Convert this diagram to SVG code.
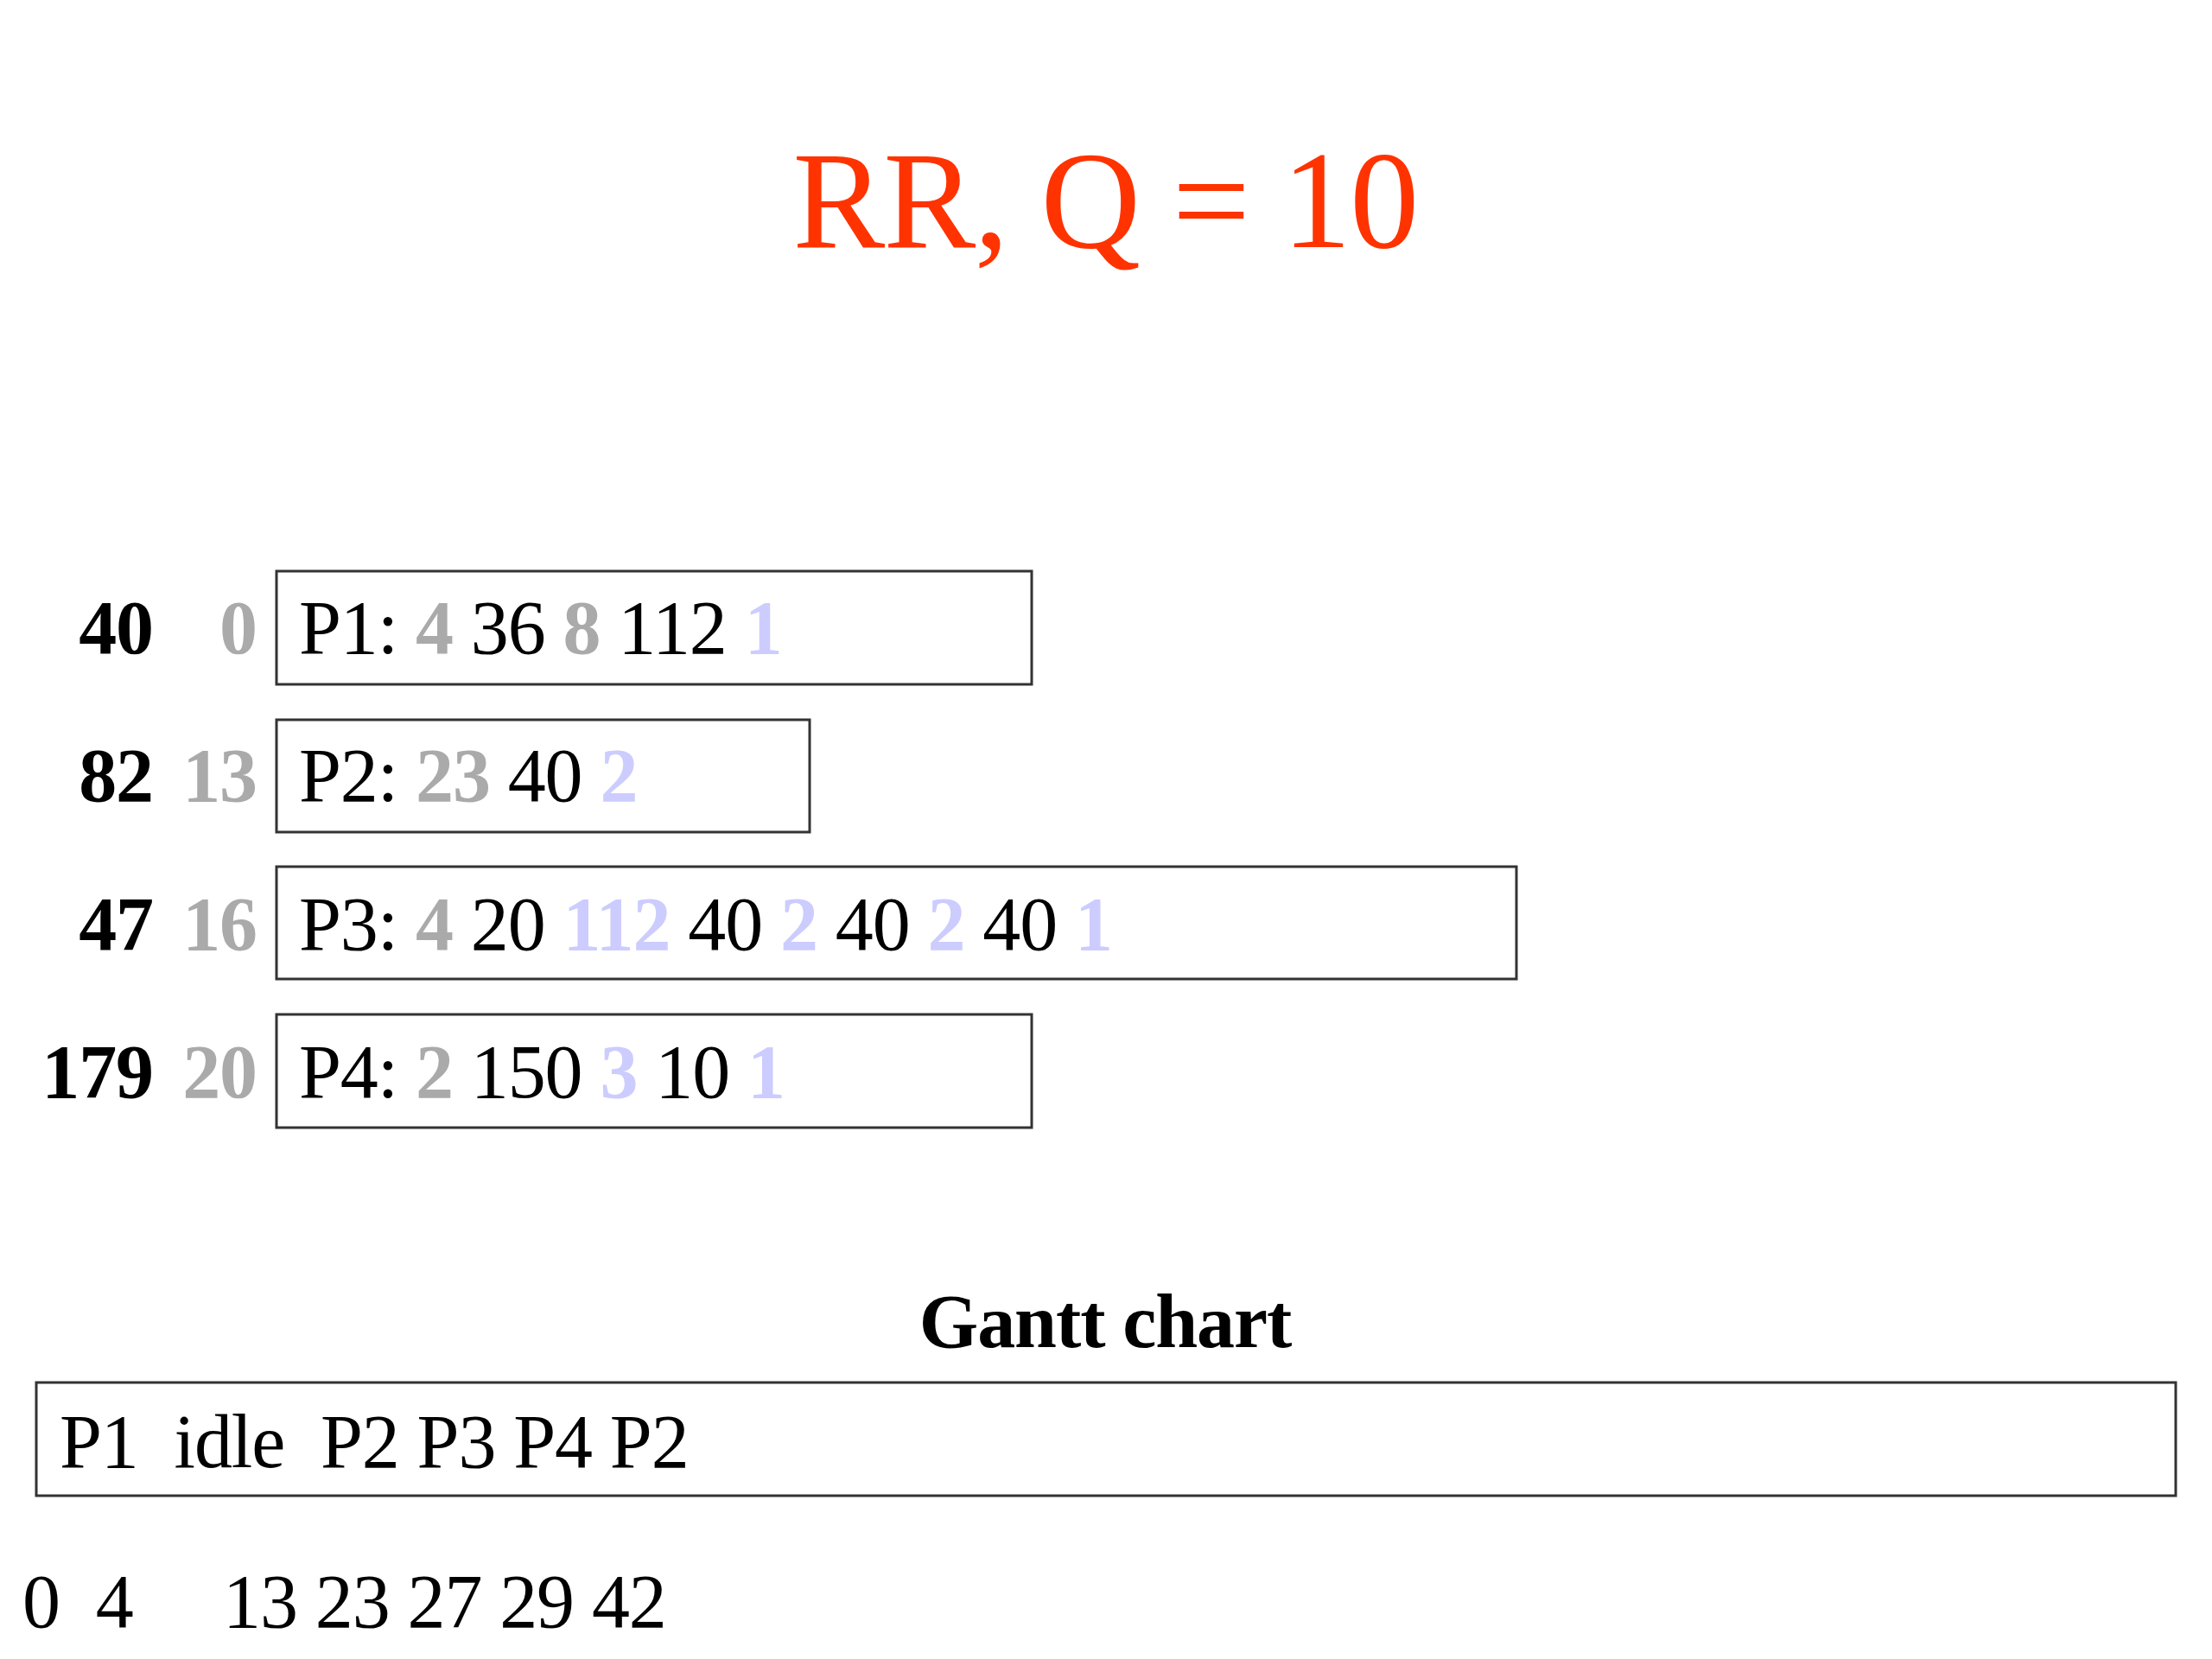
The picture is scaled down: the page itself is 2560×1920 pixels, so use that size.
<svg xmlns="http://www.w3.org/2000/svg" width="2560" height="1920" viewBox="0 0 2560 1920">
<style>
text{font-family:"Liberation Serif","Times New Roman",serif;white-space:pre}
.t{font-size:88px;fill:#000;letter-spacing:-1.1px}
.b{font-weight:bold}
.g{fill:#AAAAAA;font-weight:bold}
.l{fill:#CCCCFF;font-weight:bold}
.box{fill:#fff;stroke:#333;stroke-width:3}
.title{font-size:160px;fill:#FF3300;letter-spacing:-1.6px}
</style>
<rect width="2560" height="1920" fill="#fff"/>
<text class="title" x="1279" y="286" text-anchor="middle">RR, Q = 10</text>
<g id="row1">
<text class="t b" x="177" y="756" text-anchor="end">40</text>
<text class="t g" x="297" y="756" text-anchor="end">0</text>
<rect class="box" x="320" y="661" width="874" height="131"/>
<text class="t" x="346" y="756" xml:space="preserve">P1: <tspan class="g">4</tspan> 36 <tspan class="g">8</tspan> 112 <tspan class="l">1</tspan></text>
</g>
<g id="row2">
<text class="t b" x="177" y="927" text-anchor="end">82</text>
<text class="t g" x="297" y="927" text-anchor="end">13</text>
<rect class="box" x="320" y="833" width="617" height="130"/>
<text class="t" x="346" y="927" xml:space="preserve">P2: <tspan class="g">23</tspan> 40 <tspan class="l">2</tspan></text>
</g>
<g id="row3">
<text class="t b" x="177" y="1099" text-anchor="end">47</text>
<text class="t g" x="297" y="1099" text-anchor="end">16</text>
<rect class="box" x="320" y="1003" width="1435" height="130"/>
<text class="t" x="346" y="1099" xml:space="preserve">P3: <tspan class="g">4</tspan> 20 <tspan class="l">112</tspan> 40 <tspan class="l">2</tspan> 40 <tspan class="l">2</tspan> 40 <tspan class="l">1</tspan></text>
</g>
<g id="row4">
<text class="t b" x="177" y="1270" text-anchor="end">179</text>
<text class="t g" x="297" y="1270" text-anchor="end">20</text>
<rect class="box" x="320" y="1174" width="874" height="131"/>
<text class="t" x="346" y="1270" xml:space="preserve">P4: <tspan class="g">2</tspan> 150 <tspan class="l">3</tspan> 10 <tspan class="l">1</tspan></text>
</g>
<g id="gantt">
<text class="t b" x="1279" y="1559" text-anchor="middle">Gantt chart</text>
<rect class="box" x="42" y="1600" width="2476" height="131"/>
<text class="t" x="69" y="1698" xml:space="preserve">P1  idle  P2 P3 P4 P2</text>
<text class="t" x="26" y="1883" xml:space="preserve">0  4     13 23 27 29 42</text>
</g>
<g id="connectors"/>
</svg>
